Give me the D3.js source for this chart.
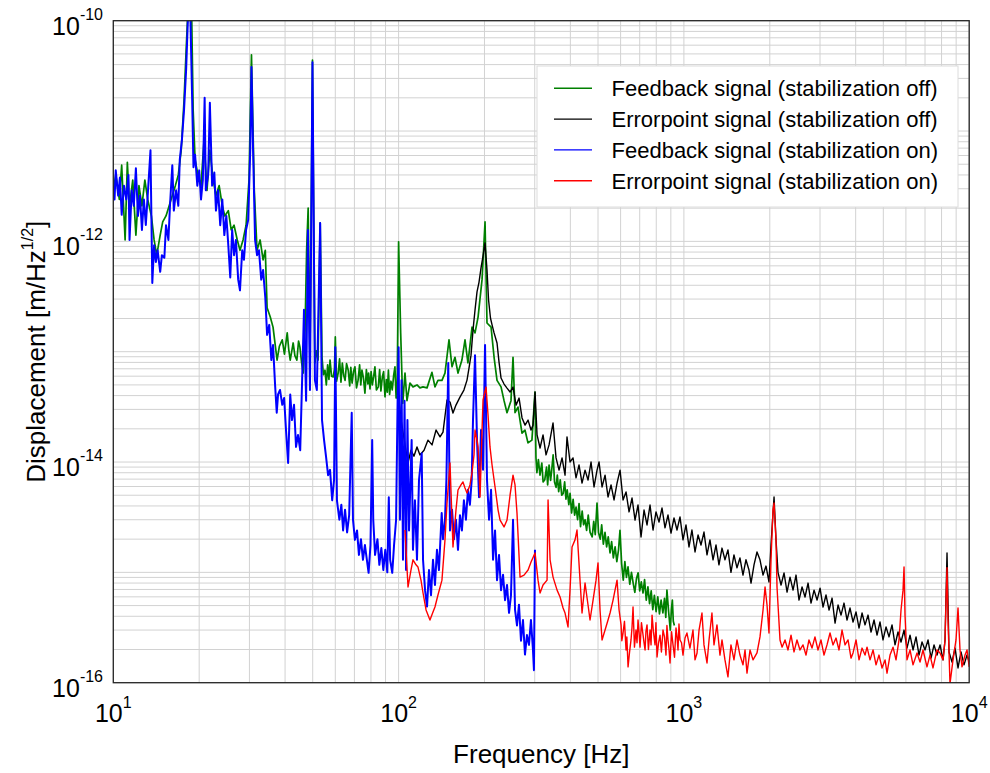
<!DOCTYPE html>
<html><head><meta charset="utf-8">
<script src="https://cdn.jsdelivr.net/npm/d3@7"></script>
<style>body{margin:0;background:#fff}svg{display:block;font-family:"Liberation Sans",Arial,sans-serif}</style>
</head><body><svg id="c" width="990" height="773"></svg>
<script>
// [frequency Hz, displacement m/sqrt(Hz)]
const feedbackOff = [[10.0,2.9e-12],[10.2,4.0e-12],[10.5,2.4e-12],[10.7,4.9e-12],[11.0,1.03e-12],[11.2,5.2e-12],[11.4,2.1e-12],[11.7,3.6e-12],[12.0,1.14e-12],[12.3,3.2e-12],[12.6,2.1e-12],[12.9,3.6e-12],[13.2,2.4e-12],[13.6,1.7e-12],[13.9,1.03e-12],[14.2,7.5e-13],[14.6,1.14e-12],[14.9,1.5e-12],[15.3,1.7e-12],[15.7,2.1e-12],[16.1,2.6e-12],[16.5,3.2e-12],[16.9,4.0e-12],[17.3,6.7e-12],[17.7,1.9e-11],[18.0,5.4e-11],[18.3,1.4e-10],[18.8,1.4e-10],[19.05,1.55e-11],[19.35,5.5e-12],[19.8,4.0e-12],[20.3,3.2e-12],[20.8,8.3e-12],[21.3,2.9e-12],[21.8,6.7e-12],[22.4,3.6e-12],[22.9,2.6e-12],[23.5,3.2e-12],[24.1,2.1e-12],[24.6,1.7e-12],[25.3,1.9e-12],[25.9,1.27e-12],[26.5,1.4e-12],[27.2,1.03e-12],[27.8,8.3e-13],[28.5,1.03e-12],[29.2,1.4e-12],[29.9,3.6e-12],[30.5,4.9e-11],[31.2,2.9e-12],[31.9,8.3e-13],[32.7,1.03e-12],[33.5,6.8e-13],[34.1,8.3e-13],[34.6,2.5e-13],[35.5,2.06e-13],[36.3,1.67e-13],[37.5,8.4e-14],[38.2,1.12e-13],[39.1,1.28e-13],[39.8,9.5e-14],[40.7,1.48e-13],[41.2,1.05e-13],[41.7,8.4e-14],[42.2,1.0e-13],[42.7,1.2e-13],[43.3,9.2e-14],[44.0,8.4e-14],[44.6,1.25e-13],[45.1,1.1e-13],[45.7,8.0e-14],[46.3,6.4e-14],[47.0,1.57e-13],[47.6,8.3e-13],[48.2,2.0e-12],[48.9,8.4e-14],[49.9,4.4e-11],[50.9,7.9e-14],[51.5,1.02e-13],[52.2,8.4e-14],[53.1,1.47e-12],[53.9,8.9e-14],[54.5,6.2e-14],[55.2,6.8e-14],[55.8,5.0e-14],[56.4,7.6e-14],[57.0,5.6e-14],[57.5,8.4e-14],[58.2,6.0e-14],[59.0,5.9e-14],[59.6,7.0e-14],[60.0,1.36e-13],[60.6,5.4e-14],[61.4,6.4e-14],[62.1,8.6e-14],[62.8,5.3e-14],[63.5,7.9e-14],[64.2,6.1e-14],[64.9,5.5e-14],[65.7,7.8e-14],[66.6,6.8e-14],[67.4,4.9e-14],[68.0,7.2e-14],[68.7,5.2e-14],[69.5,6.6e-14],[70.3,7.3e-14],[71.2,4.7e-14],[72.1,5.5e-14],[73.0,7.6e-14],[73.7,5.0e-14],[74.4,6.8e-14],[75.3,5.8e-14],[76.2,4.2e-14],[77.1,6.9e-14],[78.0,5.1e-14],[78.5,6.4e-14],[79.4,4.6e-14],[80.1,6.6e-14],[80.9,5.0e-14],[81.8,6.0e-14],[82.6,7.3e-14],[83.6,4.5e-14],[84.9,4.8e-14],[85.8,6.9e-14],[86.7,4.4e-14],[87.7,5.9e-14],[88.6,6.6e-14],[89.6,3.9e-14],[90.6,5.6e-14],[91.3,4.3e-14],[92.1,6.8e-14],[93.0,4.1e-14],[94.0,5.4e-14],[95.0,4.5e-14],[96.1,6.1e-14],[97.1,7.3e-14],[98.0,3.8e-14],[98.8,4.2e-14],[100,9.9e-13],[101.7,1.48e-13],[103.4,3.4e-14],[105.3,6.4e-14],[107.0,3.6e-14],[109.6,5.2e-14],[112.3,4.8e-14],[116.0,5.0e-14],[118.8,4.7e-14],[121.8,4.8e-14],[125.8,4.7e-14],[130.9,6.5e-14],[134.1,4.8e-14],[137.4,5.5e-14],[141.9,5.5e-14],[145.4,6.4e-14],[150.2,1.28e-13],[153.9,7.3e-14],[157.6,8.9e-14],[161.5,6.4e-14],[166.7,8.4e-14],[170.9,1.28e-13],[175.0,7.9e-14],[180.9,1.67e-13],[185.3,1.48e-13],[189.9,2.06e-13],[196.1,4.5e-13],[200.9,1.5e-12],[204.1,1.82e-13],[210.9,1.67e-13],[216.1,8.9e-14],[221.3,5.5e-14],[228.6,4.8e-14],[234.2,3.6e-14],[239.9,2.8e-14],[247.7,3.6e-14],[251.8,8.9e-14],[255.9,2.8e-14],[262.1,3.15e-14],[270.7,1.83e-14],[277.3,1.95e-14],[284.1,1.49e-14],[293.3,1.58e-14],[300.6,4.3e-14],[303,1.1e-14],[305.3,8.0e-15],[309,1.05e-14],[313,7.6e-15],[317.7,9.8e-15],[321,6.6e-15],[325.3,6.9e-15],[330,9.0e-15],[333,6.2e-15],[336.8,9.4e-15],[341,6.8e-15],[344,8.4e-15],[348.1,1.16e-14],[352,6.6e-15],[356.4,5.9e-15],[360,7.6e-15],[364,5.4e-15],[368.6,6.9e-15],[373,5.0e-15],[377.5,5.2e-15],[382,6.6e-15],[386,4.6e-15],[389.9,5.6e-15],[395,4.1e-15],[399,5.2e-15],[404.0,3.45e-15],[409,4.6e-15],[414,3.3e-15],[418.8,3.9e-15],[424,3.0e-15],[429,4.2e-15],[434.2,2.6e-15],[440,3.6e-15],[445,2.7e-15],[450.4,3.0e-15],[456,2.4e-15],[462,3.3e-15],[469,2.3e-15],[477,2.1e-15],[483,2.9e-15],[489,2.2e-15],[496,4.25e-15],[502,2.3e-15],[509,2.0e-15],[515,2.7e-15],[522,1.8e-15],[529,2.3e-15],[536,1.7e-15],[543,2.1e-15],[551,1.5e-15],[558,1.9e-15],[566,1.35e-15],[574,1.7e-15],[582,1.25e-15],[590,1.6e-15],[597,2.4e-15],[605,1.2e-15],[613,8.5e-16],[621,1.25e-15],[629,9.0e-16],[637,1.12e-15],[646,7.8e-16],[655,1.0e-15],[664,8.0e-16],[673,6.6e-16],[682,8.8e-16],[691,9.9e-16],[700,6.8e-16],[709,8.2e-16],[719,6.5e-16],[728,8.6e-16],[738,5.6e-16],[748,7.4e-16],[758,5.2e-16],[768,6.8e-16],[778,4.6e-16],[788,6.2e-16],[799,4.4e-16],[810,6.0e-16],[821,4.2e-16],[832,5.6e-16],[844,4.3e-16],[855,5.8e-16],[864,3.9e-16],[872,6.9e-16],[884,4.4e-16],[896,3.0e-16],[904,4.6e-16],[911,5.6e-16],[918,3.6e-16],[926,3.3e-16]];

const errorOff = [[100.3,3.65e-14],[102,2.4e-14],[103.6,1.87e-14],[105.3,1.43e-14],[107.9,9.8e-15],[110.5,1.28e-14],[113.2,1.13e-14],[116.0,1.37e-14],[118.8,1.16e-14],[122.8,1.28e-14],[126.8,1.58e-14],[131.0,1.43e-14],[135.3,1.95e-14],[139.7,1.69e-14],[143.1,1.87e-14],[147.8,3.65e-14],[151.4,3.5e-14],[155.1,2.78e-14],[158.9,3.28e-14],[164.1,3.88e-14],[169.4,4.49e-14],[173.7,5.53e-14],[176.5,7.1e-14],[179.4,9.3e-14],[182.3,1.57e-13],[185.3,2.39e-13],[188.3,3.48e-13],[191.4,4.28e-13],[194.5,5.74e-13],[197.7,7.37e-13],[200.9,9.67e-13],[204.1,5.5e-13],[206.7,2.94e-13],[209.9,2.02e-13],[212.6,1.75e-13],[216.1,1.48e-13],[221.3,1.2e-13],[224.9,8.05e-14],[228.6,5.77e-14],[234.2,5.09e-14],[239.9,4.68e-14],[245.9,4.31e-14],[251.8,4.78e-14],[258.1,3.28e-14],[264.4,3.8e-14],[270.8,2.51e-14],[277.5,2.16e-14],[284.3,2.4e-14],[291.2,1.95e-14],[296.0,2.16e-14],[300.8,4.31e-14],[305.7,1.76e-14],[313.2,1.34e-14],[320.8,1.76e-14],[328.7,1.16e-14],[336.8,1.43e-14],[347.8,2.26e-14],[356.3,1.09e-14],[365.1,8.45e-15],[374.0,1.09e-14],[383.2,7.6e-15],[389.3,1.69e-14],[398.9,1.0e-14],[408.6,1.09e-14],[418.7,7.18e-15],[429.0,9.4e-15],[439.5,6.45e-15],[450.3,8.45e-15],[461.3,6.87e-15],[472.6,1.0e-14],[484.2,5.94e-15],[496.1,8.45e-15],[504.2,1.0e-14],[516.5,5.94e-15],[529.2,7.6e-15],[542.1,4.82e-15],[555.4,6.2e-15],[569.0,4.53e-15],[583.0,6.45e-15],[597.3,8.45e-15],[611.9,4.53e-15],[626.9,5.36e-15],[642.3,3.53e-15],[658.0,4.72e-15],[674.1,2.98e-15],[690.6,4.08e-15],[707.5,2.09e-15],[724.9,3.67e-15],[742.6,2.69e-15],[760.8,4.08e-15],[779.4,2.42e-15],[798.5,3.53e-15],[818.1,2.86e-15],[838.1,3.83e-15],[858.6,2.53e-15],[879.7,3.31e-15],[901.2,2.27e-15],[923.3,3.11e-15],[945.9,2.42e-15],[969.0,3.18e-15],[992.8,1.97e-15],[1017,2.69e-15],[1042,1.7e-15],[1067,2.42e-15],[1094,1.53e-15],[1121,2.18e-15],[1148,1.77e-15],[1176,2.32e-15],[1205,1.44e-15],[1234,1.97e-15],[1265,1.3e-15],[1296,1.77e-15],[1327,1.17e-15],[1360,1.66e-15],[1393,1.3e-15],[1427,1.6e-15],[1462,1.0e-15],[1498,1.44e-15],[1535,1.1e-15],[1572,1.35e-15],[1611,9.45e-16],[1650,1.3e-15],[1691,1.05e-15],[1719,8.0e-16],[1761,1.17e-15],[1804,1.53e-15],[1848,1.3e-15],[1894,9.45e-16],[1940,1.14e-15],[1987,8.18e-16],[2020,1.77e-15],[2070,4.82e-15],[2103,1.97e-15],[2137,1.0e-15],[2190,7.68e-16],[2244,9.87e-16],[2299,6.63e-16],[2355,9.06e-16],[2413,6.9e-16],[2472,9.45e-16],[2532,5.61e-16],[2595,7.37e-16],[2658,5.98e-16],[2724,8.0e-16],[2790,5.27e-16],[2859,6.9e-16],[2929,5.61e-16],[3001,7.2e-16],[3074,4.85e-16],[3149,6.23e-16],[3227,4.56e-16],[3306,5.85e-16],[3387,3.47e-16],[3470,5.06e-16],[3554,4.1e-16],[3641,5.27e-16],[3731,3.7e-16],[3822,4.75e-16],[3916,3.55e-16],[4012,4.37e-16],[4110,3.13e-16],[4211,4.28e-16],[4314,3.34e-16],[4420,4.1e-16],[4528,2.88e-16],[4639,3.7e-16],[4753,2.7e-16],[4869,3.55e-16],[4988,2.44e-16],[5111,3.2e-16],[5236,2.6e-16],[5364,3.34e-16],[5496,2.2e-16],[5630,2.88e-16],[5768,2.34e-16],[5910,3.0e-16],[6054,2.06e-16],[6203,2.7e-16],[6355,1.98e-16],[6511,2.6e-16],[6670,1.78e-16],[6834,2.34e-16],[7001,1.98e-16],[7173,2.44e-16],[7349,1.67e-16],[7529,2.2e-16],[7714,1.78e-16],[7903,2.2e-16],[8097,1.61e-16],[8228,2.44e-16],[8361,1.5e-15],[8496,1.9e-16],[8705,1.54e-16],[8918,2.06e-16],[9137,1.36e-16],[9361,1.9e-16],[9591,1.45e-16],[9826,1.78e-16],[10000,1.54e-16]];

const feedbackOn = [[10.0,3.2e-12],[10.1,2.4e-12],[10.2,4.4e-12],[10.4,2.6e-12],[10.55,3.8e-12],[10.7,1.74e-12],[10.9,3.2e-12],[11.1,2.4e-12],[11.3,4.0e-12],[11.4,1.03e-12],[11.6,2.9e-12],[11.8,2.1e-12],[12.0,4.6e-12],[12.2,1.7e-12],[12.4,2.6e-12],[12.6,1.27e-12],[12.8,2.4e-12],[13.0,1.41e-12],[13.2,2.6e-12],[13.5,6.7e-12],[13.7,4.2e-13],[13.9,9.2e-13],[14.1,6.5e-13],[14.3,8.3e-13],[14.6,5.3e-13],[14.8,7.5e-13],[15.1,7.1e-13],[15.3,1.4e-12],[15.6,1.03e-12],[15.8,2.1e-12],[16.1,4.9e-12],[16.3,1.9e-12],[16.6,2.9e-12],[16.9,2.1e-12],[17.1,5.5e-12],[17.4,8.3e-12],[17.7,1.55e-11],[18.0,3.6e-11],[18.35,1.5e-10],[18.6,1.3e-10],[18.9,1.9e-11],[19.1,4.7e-12],[19.35,6.1e-12],[19.7,3.2e-12],[20.0,4.4e-12],[20.3,2.4e-12],[20.6,3.6e-12],[20.9,2.0e-11],[21.1,2.9e-12],[21.5,4.0e-12],[21.8,1.8e-11],[22.2,3.2e-12],[22.6,4.2e-12],[22.9,1.9e-12],[23.3,2.9e-12],[23.7,1.4e-12],[24.1,2.4e-12],[24.5,1.14e-12],[24.9,1.7e-12],[25.3,9.2e-13],[25.7,4.7e-13],[26.1,1.27e-12],[26.5,7.5e-13],[26.9,1.03e-12],[27.4,4.5e-13],[27.8,3.6e-13],[28.3,8.3e-13],[28.7,6.8e-13],[29.2,1.27e-12],[29.7,1.56e-12],[30.2,6.7e-12],[30.5,3.8e-11],[30.9,6.7e-12],[31.4,1.03e-12],[31.9,7.5e-13],[32.4,8.3e-13],[33.0,4.5e-13],[33.5,5.5e-13],[34.1,3.1e-13],[34.6,1.42e-13],[35.2,1.75e-13],[35.8,8.4e-14],[36.3,1.15e-13],[36.9,5.0e-14],[37.4,2.8e-14],[37.8,4.1e-14],[38.4,4.5e-14],[39.1,3.3e-14],[39.7,3.8e-14],[40.3,1.95e-14],[41.0,9.8e-15],[41.7,4.1e-14],[42.3,2.4e-14],[43.0,3.3e-14],[43.7,1.37e-14],[44.4,1.76e-14],[45.2,1.28e-14],[45.9,5.5e-14],[46.6,2.4e-13],[47.4,3.6e-14],[48.1,1.27e-12],[48.9,4.5e-14],[49.9,4.2e-11],[50.9,5.5e-14],[51.7,4.5e-14],[53.1,1.47e-12],[53.9,2.4e-14],[54.8,1.58e-14],[55.7,1.11e-14],[56.6,7.6e-15],[57.5,8.5e-15],[58.5,4.5e-15],[59.4,6.9e-15],[60.0,1.1e-13],[60.8,4.5e-15],[62.0,3.0e-15],[63.0,4.1e-15],[63.9,2.4e-15],[64.9,3.7e-15],[66.0,2.3e-15],[67.1,3.3e-15],[68.5,2.8e-14],[69.2,3.0e-15],[70.3,1.97e-15],[71.5,2.4e-15],[72.6,1.44e-15],[73.8,2.0e-15],[75.0,1.3e-15],[76.2,1.77e-15],[78.5,9.9e-16],[79.7,1.77e-15],[80.8,1.58e-14],[81.5,3.0e-15],[82.7,1.44e-15],[84.3,2.0e-15],[85.6,1.17e-15],[87.0,1.66e-15],[88.4,1.05e-15],[89.8,1.6e-15],[91.3,1.0e-15],[92.4,4.8e-15],[93.4,1.3e-15],[95.0,9.9e-16],[96.4,1.77e-15],[98.0,3.0e-15],[99.2,3.6e-14],[100,1.1e-13],[101.1,3.0e-15],[102.4,5.5e-14],[103.6,1.3e-15],[104.9,3.6e-14],[106.2,1.05e-15],[107.4,2.4e-14],[108.8,2.4e-15],[111.1,1.58e-14],[112.3,1.6e-15],[114.1,4.5e-15],[116.0,1.3e-15],[117.9,6.9e-15],[120.5,1.2e-14],[121.8,1.3e-15],[123.8,6.9e-16],[125.8,4.9e-16],[127.8,1.05e-15],[129.9,6.2e-16],[132.0,1.3e-15],[134.1,7.7e-16],[136.3,1.6e-15],[138.5,1.05e-15],[141.6,3.45e-15],[143.1,2.0e-15],[145.4,3.0e-15],[147.1,6.9e-15],[149.3,7.9e-14],[151.4,2.4e-15],[153.9,3.7e-15],[156.4,2.0e-15],[158.9,3.0e-15],[161.5,1.6e-15],[164.1,3.3e-15],[166.7,2.4e-15],[169.4,4.5e-15],[172.2,3.0e-15],[175.0,5.6e-15],[177.8,4.1e-15],[180.4,6.9e-15],[182.3,2.4e-14],[185.3,9.3e-14],[188.3,1.58e-14],[191.4,4.8e-15],[194.5,1.95e-14],[197.7,8.5e-15],[200.9,1.15e-13],[204.1,6.9e-15],[207.5,3.0e-15],[210.9,5.6e-15],[214.3,1.3e-15],[217.8,2.4e-15],[221.3,8.5e-16],[224.9,1.44e-15],[228.6,6.9e-16],[232.3,9.5e-16],[236.1,5.6e-16],[239.9,7.7e-16],[243.8,4.3e-16],[247.7,6.2e-16],[251.8,3.0e-15],[255.9,4.6e-16],[260.0,3.3e-16],[264.2,5.1e-16],[268.5,2.4e-16],[272.9,3.7e-16],[277.3,1.8e-16],[281.8,2.7e-16],[286.4,2.2e-16],[291.0,3.7e-16],[295.7,2.0e-16],[298.1,1.3e-16],[300.6,1.6e-15]];

const errorOn = [[105.3,2.42e-15],[107.9,7.37e-16],[110.5,1.05e-15],[112.3,1.3e-15],[115.1,1.17e-15],[116.9,1.12e-15],[119.8,8.5e-16],[121.8,6.5e-16],[124.8,4.56e-16],[128.8,3.7e-16],[132.0,4.37e-16],[134.1,4.85e-16],[137.4,6.23e-16],[141.9,8.5e-16],[145.4,1.97e-15],[147.8,4.25e-15],[151.4,9.8e-15],[153.9,2.98e-15],[155.1,1.7e-15],[158.9,3.67e-15],[161.5,5.58e-15],[165.4,6.2e-15],[168.1,6.6e-15],[170.9,5.82e-15],[173.7,5.25e-15],[177.9,6.2e-15],[180.8,7.96e-15],[183.8,1.16e-14],[185.3,1.95e-14],[188.3,1.58e-14],[189.9,1.37e-14],[193.0,4.82e-15],[196.1,1.95e-14],[197.7,3.65e-14],[202.5,4.78e-14],[205.8,2.67e-14],[209.1,1.37e-14],[212.6,9.4e-15],[217.8,5.94e-15],[223.2,3.67e-15],[226.8,2.98e-15],[234.2,2.58e-15],[239.9,2.98e-15],[245.9,5.03e-15],[251.8,7.6e-15],[255.9,6.2e-15],[260.0,3.45e-15],[266.5,9.06e-16],[275.2,9.45e-16],[284.3,1.05e-15],[291.2,1.24e-15],[300.8,1.5e-15],[308.1,8.5e-16],[313.2,6.5e-16],[320.8,7.68e-16],[331.4,8.5e-16],[334.1,4.53e-15],[339.6,1.3e-15],[347.8,9.06e-16],[359.3,6.9e-16],[368.1,5.98e-16],[377.1,4.75e-16],[383.2,4.28e-16],[392.5,3.2e-16],[398.9,6.9e-16],[405.4,1.7e-15],[415.3,1.97e-15],[422.0,2.42e-15],[432.4,8.5e-16],[439.5,4.28e-16],[450.3,8.0e-16],[461.3,5.06e-16],[468.8,3.7e-16],[480.4,5.61e-16],[492.1,8.5e-16],[500.0,1.22e-15],[508.2,4.56e-16],[516.5,2.44e-16],[529.2,3.0e-16],[542.1,3.7e-16],[551.0,4.28e-16],[564.5,5.61e-16],[573.6,6.9e-16],[583.0,8.5e-16],[592.6,4.56e-16],[602.3,3.34e-16],[606,2.4e-16],[611.9,2.82e-16],[619,3.6e-16],[626.9,1.98e-16],[631,2.6e-16],[637.2,1.39e-16],[645,1.9e-16],[652.6,2.44e-16],[658,3.2e-16],[663.3,4.85e-16],[671,2.1e-16],[679.3,3.0e-16],[685,2.3e-16],[690.6,3.7e-16],[696,2.9e-16],[701.9,2.1e-16],[710,3.5e-16],[719.2,2.7e-16],[725,2.3e-16],[730.9,1.98e-16],[736,2.9e-16],[742.6,3.34e-16],[751,2.0e-16],[760.8,3.0e-16],[767,2.2e-16],[773.3,4.1e-16],[782,2.9e-16],[792.2,2.2e-16],[798,3.5e-16],[805.1,1.71e-16],[815,2.3e-16],[824.8,2.7e-16],[834,1.9e-16],[844.9,3.0e-16],[855,2.6e-16],[865.5,1.78e-16],[872,3.3e-16],[879.7,2.44e-16],[887,2.0e-16],[894.1,1.51e-16],[905,2.9e-16],[916.0,2.2e-16],[927,1.7e-16],[938.3,3.13e-16],[946,2.6e-16],[953.6,1.98e-16],[961,3.4e-16],[969.0,2.44e-16],[981,2.3e-16],[992.8,1.78e-16],[1009,2.54e-16],[1025,2.82e-16],[1050,2.06e-16],[1076,3.0e-16],[1094,1.61e-16],[1112,1.86e-16],[1130,3.0e-16],[1157,4.28e-16],[1176,2.2e-16],[1205,1.51e-16],[1225,2.44e-16],[1254,4.28e-16],[1275,2.2e-16],[1306,3.34e-16],[1338,1.78e-16],[1360,2.44e-16],[1393,1.61e-16],[1427,1.13e-16],[1462,2.2e-16],[1498,1.61e-16],[1535,2.44e-16],[1572,1.78e-16],[1611,1.45e-16],[1638,1.98e-16],[1664,1.22e-16],[1705,1.98e-16],[1747,1.61e-16],[1804,1.86e-16],[1848,2.6e-16],[1894,4.56e-16],[1925,7.37e-16],[1956,5.06e-16],[1987,2.82e-16],[2020,1.3e-15],[2052,3.67e-15],[2070,4.25e-15],[2103,1.97e-15],[2120,7.37e-16],[2172,2.44e-16],[2208,2.1e-16],[2262,2.44e-16],[2317,1.98e-16],[2374,2.7e-16],[2432,1.9e-16],[2491,2.44e-16],[2552,1.98e-16],[2615,2.2e-16],[2679,1.78e-16],[2744,2.44e-16],[2812,2.06e-16],[2880,2.6e-16],[2951,1.98e-16],[3023,2.44e-16],[3098,1.78e-16],[3174,2.2e-16],[3252,2.82e-16],[3331,2.2e-16],[3413,2.54e-16],[3497,1.98e-16],[3583,3.0e-16],[3671,2.2e-16],[3761,2.44e-16],[3853,1.67e-16],[3916,1.86e-16],[4012,2.44e-16],[4110,1.61e-16],[4211,2.06e-16],[4314,1.78e-16],[4384,2.1e-16],[4492,1.61e-16],[4602,1.98e-16],[4715,1.45e-16],[4830,1.78e-16],[4949,1.36e-16],[5070,1.61e-16],[5152,1.22e-16],[5278,1.78e-16],[5408,2.1e-16],[5540,1.61e-16],[5676,2.44e-16],[5768,4.56e-16],[5862,6.9e-16],[5910,1.12e-15],[5957,4.1e-16],[6054,1.61e-16],[6203,1.98e-16],[6355,1.45e-16],[6563,1.86e-16],[6724,1.54e-16],[6889,1.98e-16],[7113,1.39e-16],[7287,1.78e-16],[7466,1.36e-16],[7714,1.98e-16],[7903,1.86e-16],[8097,1.61e-16],[8228,2.44e-16],[8294,5.61e-16],[8361,1.1e-15],[8428,3.7e-16],[8564,9.8e-17],[8775,1.61e-16],[8990,2.44e-16],[9137,4.75e-16],[9286,1.98e-16],[9437,1.39e-16],[9668,1.78e-16],[9826,1.98e-16],[10000,1.39e-16]];

const seriesLabels = ["Feedback signal (stabilization off)","Errorpoint signal (stabilization off)","Feedback signal (stabilization on)","Errorpoint signal (stabilization on)"];
const seriesColors = ["#008000","#000000","#0000ff","#ff0000"];
const seriesWidths = [1.7,1.4,2.0,1.4];
const seriesData = [feedbackOff, errorOff, feedbackOn, errorOn];
const xTickExponents = [1,2,3,4];
const yTickExponents = [-10,-12,-14,-16];
const xTitle = "Frequency [Hz]";

const svg = d3.select("#c");
const L = 113.3, R = 969.2, T = 20.7, B = 682.7;
const x = d3.scaleLog().domain([10, 1e4]).range([L, R]);
const y = d3.scaleLog().domain([1e-16, 1e-10]).range([B, T]);

// grid
const xGrid = [], yGrid = [];
for (let e = 1; e < 4; e++) for (let m = 1; m < 10; m++) xGrid.push(m * Math.pow(10, e));
xGrid.push(1e4);
for (let e = -16; e < -10; e++) for (let m = 1; m < 10; m++) yGrid.push(m * Math.pow(10, e));
yGrid.push(1e-10);
const grid = svg.append("g").attr("stroke", "#d2d2d2").attr("stroke-width", 1);
grid.selectAll(".gx").data(xGrid).join("line")
  .attr("x1", d => x(d)).attr("x2", d => x(d)).attr("y1", T).attr("y2", B);
grid.selectAll(".gy").data(yGrid).join("line")
  .attr("y1", d => y(d)).attr("y2", d => y(d)).attr("x1", L).attr("x2", R);

// clip
svg.append("clipPath").attr("id", "clip").append("rect")
  .attr("x", L).attr("y", T).attr("width", R - L).attr("height", B - T);

const line = d3.line().x(d => x(d[0])).y(d => y(d[1]));
const lines = svg.append("g").attr("clip-path", "url(#clip)");
seriesData.forEach((data, i) => {
  lines.append("path").datum(data).attr("d", line)
    .attr("fill", "none").attr("stroke", seriesColors[i])
    .attr("stroke-width", seriesWidths[i]).attr("stroke-linejoin", "round");
});

// frame
svg.append("rect").attr("x", L).attr("y", T).attr("width", R - L).attr("height", B - T)
  .attr("fill", "none").attr("stroke", "#262626").attr("stroke-width", 1.3);

// x tick labels
xTickExponents.forEach(e => {
  const t = svg.append("text").attr("x", x(Math.pow(10, e))).attr("y", 722)
    .attr("text-anchor", "middle").attr("fill", "#000");
  t.append("tspan").attr("font-size", 25).text("10");
  t.append("tspan").attr("font-size", 16).attr("dy", -14).text(String(e));
});
// y tick labels
yTickExponents.forEach(e => {
  const yy = y(Math.pow(10, e));
  const t = svg.append("text").attr("x", 103).attr("y", yy + 14)
    .attr("text-anchor", "end").attr("fill", "#000");
  t.append("tspan").attr("font-size", 25).text("10");
  t.append("tspan").attr("font-size", 16).attr("dy", -15).text(String(e));
});

// axis titles
svg.append("text").attr("x", (L + R) / 2).attr("y", 763).attr("text-anchor", "middle")
  .attr("font-size", 26).text(xTitle);
const yt = svg.append("text").attr("transform", `translate(45,${(T + B) / 2}) rotate(-90)`)
  .attr("text-anchor", "middle").attr("font-size", 26);
yt.append("tspan").text("Displacement [m/Hz");
yt.append("tspan").attr("font-size", 16).attr("dy", -12).text("1/2");
yt.append("tspan").attr("dy", 12).text("]");

// legend
const lg = svg.append("g");
lg.append("rect").attr("x", 537).attr("y", 66).attr("width", 421).attr("height", 141)
  .attr("fill", "#fff").attr("stroke", "#dcdcdc").attr("stroke-width", 1);
seriesLabels.forEach((s, i) => {
  const ly = 88.3 + i * 30.8;
  lg.append("line").attr("x1", 554).attr("x2", 592).attr("y1", ly).attr("y2", ly)
    .attr("stroke", seriesColors[i]).attr("stroke-width", 1.4);
  lg.append("text").attr("x", 611.5).attr("y", ly + 7.8).attr("font-size", 22).text(s);
});
</script></body></html>
